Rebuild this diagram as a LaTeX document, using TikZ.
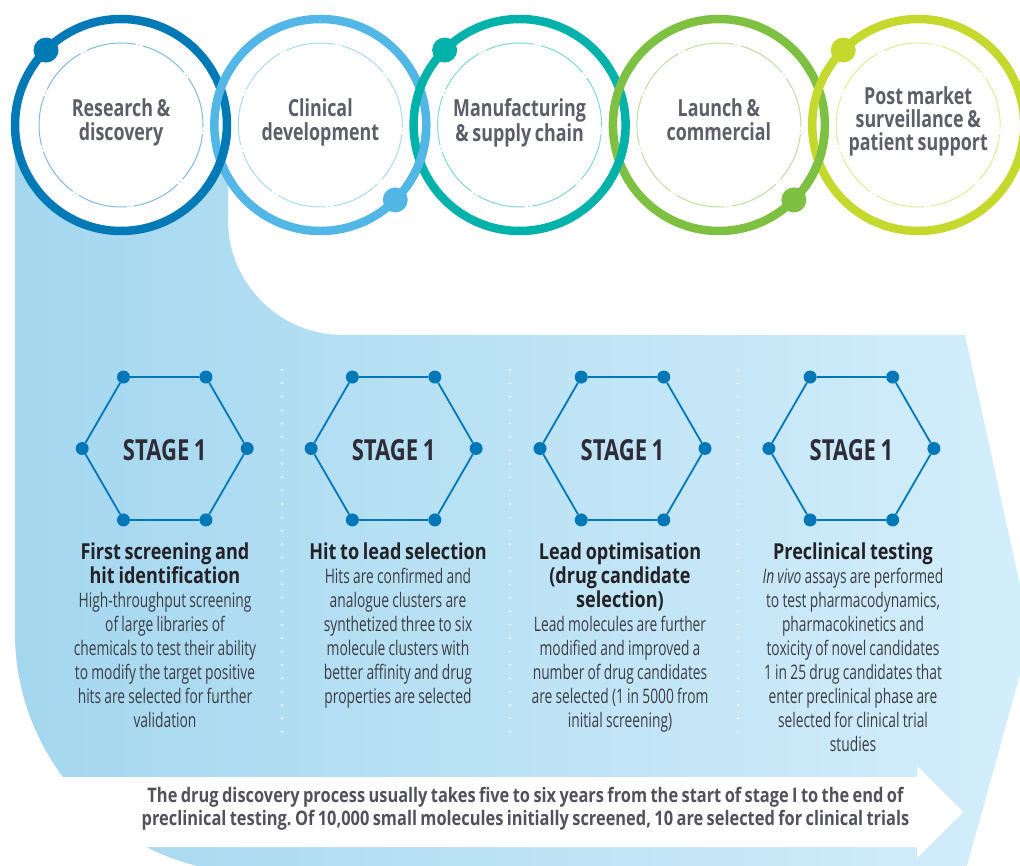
\documentclass[tikz,border=0pt]{standalone}
\usepackage{fontspec}
\setmainfont{Open Sans}
\newfontfamily\condfont{Open Sans}[FakeStretch=0.76, WordSpace=0.8]
\newfontfamily\widecond{Open Sans}[FakeStretch=0.82, WordSpace=0.8]
\newfontfamily\lightfont{Open Sans}[FakeStretch=0.69, WordSpace=0.9]
\frenchspacing
\definecolor{ringA}{RGB}{0,122,183}
\definecolor{ringB}{RGB}{82,183,230}
\definecolor{ringC}{RGB}{0,178,170}
\definecolor{ringD}{RGB}{126,193,66}
\definecolor{ringE}{RGB}{197,216,45}
\definecolor{hexblue}{RGB}{0,119,182}
\definecolor{bgL}{RGB}{164,215,239}
\definecolor{bgR}{RGB}{212,238,251}
\definecolor{circtextcol}{RGB}{92,94,105}
\definecolor{titlecol}{RGB}{35,33,38}
\definecolor{bodycol}{RGB}{62,61,68}
\definecolor{stagecol}{RGB}{46,45,55}
\definecolor{arrowcol}{RGB}{82,82,92}
\newcommand\coltitle{\widecond\bfseries\fontsize{22}{24}\selectfont\color{titlecol}}
\newcommand\colbody{\lightfont\mdseries\fontsize{20}{24}\selectfont\color{bodycol}}
\tikzset{
  ringline/.style={line width=8.5pt},
  innerdash/.style={line width=1pt, dash pattern=on 50pt off 3pt on 1pt off 3pt},
  ringdot/.style={circle, inner sep=0pt, minimum size=25pt},
  hexdot/.style={circle, fill=hexblue, inner sep=0pt, minimum size=13pt},
  hexedge/.style={draw=hexblue, line width=1.8pt},
  circtext/.style={align=center, anchor=north, inner sep=0pt, text=circtextcol,
    font=\condfont\bfseries\fontsize{23.5}{23.4}\selectfont},
  stagetext/.style={anchor=base, inner sep=0pt, text=stagecol,
    font=\condfont\bfseries\fontsize{29}{30}\selectfont},
  coltext/.style={align=flush center, anchor=north, inner sep=0pt, text width=226pt,
    font=\lightfont\fontsize{20}{24}\selectfont},
  arrowtext/.style={align=center, anchor=north, inner sep=0pt, text=arrowcol,
    font=\widecond\bfseries\fontsize{20}{23}\selectfont\frenchspacing},
  sepdots/.style={draw=white, line width=2.2pt, line cap=round, dash pattern=on 0pt off 13.4pt}
}
\begin{document}
\begin{tikzpicture}[x=1pt,y=1pt]
\useasboundingbox (0,0) rectangle (1020,-866);
\begin{scope}
\clip (0,0) rectangle (1020,-866);
% background arrow band
\shade[left color=bgL, right color=bgR]
  (15,-125) -- (228,-125) -- (228,-220) arc[start angle=180,end angle=270,radius=115]
  -- (965,-335) -- (1031,-635) -- (965,-873) -- (255,-873)
  arc[start angle=270,end angle=180,radius=240] -- cycle;
% white arrow
\fill[white] (40,-777) -- (917,-777) -- (917,-766) -- (963,-812) -- (917,-858) -- (917,-847) -- (40,-847) -- cycle;
% circles: fills
\foreach \x in {121,320.3,519.6,718.9,918.2}
  \fill[white] (\x,-125) circle[radius=110];
% inner dashed circles
\foreach \x/\c in {121/ringA,320.3/ringB,519.6/ringC,718.9/ringD,918.2/ringE}
  \draw[innerdash, draw=\c!50!white] (\x,-125) circle[radius=82];
% rings
\foreach \x/\c in {121/ringA,320.3/ringB,519.6/ringC,718.9/ringD,918.2/ringE}
  \draw[ringline, draw=\c] (\x,-125) circle[radius=106];
% chain overlaps: earlier ring over later ring at lower crossing
\foreach \x/\c in {121/ringA,320.3/ringB,519.6/ringC,718.9/ringD}
  \draw[ringline, draw=\c] (\x,-125) ++(-36:106) arc[start angle=-36,end angle=-4,radius=106];
% dots on rings
\node[ringdot, fill=ringA] (d1) at ([shift={(135:106)}]121,-125) {};
\node[ringdot, fill=ringB] (d2) at ([shift={(-45:106)}]320.3,-125) {};
\node[ringdot, fill=ringC] (d3) at ([shift={(135:106)}]519.6,-125) {};
\node[ringdot, fill=ringD] (d4) at ([shift={(-45:106)}]718.9,-125) {};
\node[ringdot, fill=ringE] (d5) at ([shift={(135:106)}]918.2,-125) {};
% circle texts
\node[circtext] (c1) at (121,-98.7) {\rule{0pt}{18pt}Research \&\\discovery};
\node[circtext] (c2) at (320.3,-98.7) {\rule{0pt}{18pt}Clinical\\development};
\node[circtext] (c3) at (519.6,-98.7) {\rule{0pt}{18pt}Manufacturing\\\& supply chain};
\node[circtext] (c4) at (718.9,-98.7) {\rule{0pt}{18pt}Launch \&\\commercial};
\node[circtext] (c5) at (918.2,-86) {\rule{0pt}{18pt}Post market\\surveillance \&\\patient support};
% separators
\foreach \k/\x in {1/282,2/510,3/738}{
  \coordinate (s\k a) at (\x,-370);
  \coordinate (s\k b) at (\x,-742);
  \draw[sepdots] (s\k a) -- (s\k b);
}
% hexagons
\foreach \n/\x in {1/164.7,2/393.6,3/622.5,4/851.4}{
  \foreach \k/\a in {1/0,2/60,3/120,4/180,5/240,6/300}
    \node[hexdot] (h\n-\k) at ([shift={(\a:82.5)}]\x,-448.5) {};
  \draw[hexedge] (h\n-1) -- (h\n-2) -- (h\n-3) -- (h\n-4) -- (h\n-5) -- (h\n-6) -- (h\n-1);
  \node[stagetext] (st\n) at (\x,-460.7) {STAGE 1};
}
% column texts
\node[coltext] (t1) at (165,-542.5) {\coltitle\rule{0pt}{17pt}First screening and\\hit identification\\\colbody High-throughput screening\\of large libraries of\\chemicals to test their ability\\to modify the target positive\\hits are selected for further\\validation};
\node[coltext] (t2) at (398,-542.5) {\coltitle\rule{0pt}{17pt}Hit to lead selection\\\colbody Hits are confirmed and\\analogue clusters are\\synthetized three to six\\molecule clusters with\\better affinity and drug\\properties are selected};
\node[coltext] (t3) at (620,-542.5) {\coltitle\rule{0pt}{17pt}Lead optimisation\\(drug candidate\\selection)\\\colbody Lead molecules are further\\modified and improved a\\number of drug candidates\\are selected (1 in 5000 from\\initial screening)};
\node[coltext] (t4) at (853,-542.5) {\coltitle\rule{0pt}{17pt}Preclinical testing\\\colbody\textit{In vivo} assays are performed\\to test pharmacodynamics,\\pharmacokinetics and\\toxicity of novel candidates\\1 in 25 drug candidates that\\enter preclinical phase are\\selected for clinical trial\\studies};
% bottom note
\node[arrowtext] (note) at (525.5,-786) {\rule{0pt}{16pt}The drug discovery process usually takes five to six years from the start of stage I to the end of\\preclinical testing. Of 10,000 small molecules initially screened, 10 are selected for clinical trials};
\end{scope}
\end{tikzpicture}
\end{document}
